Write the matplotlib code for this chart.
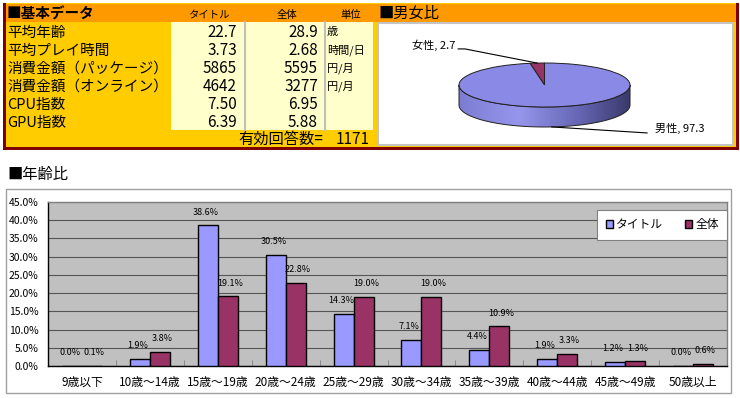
import numpy as np
import matplotlib
matplotlib.use('Agg')
import matplotlib.pyplot as plt
from matplotlib.patches import Rectangle, Polygon

plt.rcParams['font.family'] = ['Noto Sans CJK JP', 'DejaVu Sans']

# ---------------- data ----------------
table_rows = ['平均年齢', '平均プレイ時間', '消費金額（パッケージ）', '消費金額（オンライン）', 'CPU指数', 'GPU指数']
title_values = [22.7, 3.73, 5865, 4642, 7.50, 6.39]
all_values = [28.9, 2.68, 5595, 3277, 6.95, 5.88]
value_formats = ['{:.1f}', '{:.2f}', '{:.0f}', '{:.0f}', '{:.2f}', '{:.2f}']
units = ['歳', '時間/日', '円/月', '円/月', '', '']
column_headers = ['タイトル', '全体', '単位']
valid_answers = 1171

gender_labels = ['女性', '男性']
gender_values = [2.7, 97.3]

age_categories = ['9歳以下', '10歳～14歳', '15歳～19歳', '20歳～24歳', '25歳～29歳',
                  '30歳～34歳', '35歳～39歳', '40歳～44歳', '45歳～49歳', '50歳以上']
title_pct = [0.0, 1.9, 38.6, 30.5, 14.3, 7.1, 4.4, 1.9, 1.2, 0.0]
all_pct = [0.1, 3.8, 19.1, 22.8, 19.0, 19.0, 10.9, 3.3, 1.3, 0.6]
series_names = ['タイトル', '全体']

# ---------------- figure ----------------
W, H = 740, 398
fig = plt.figure(figsize=(7.4, 3.98), dpi=100)
fig.patch.set_facecolor('white')
bg = fig.add_axes([0, 0, 1, 1])
bg.set_xlim(0, W)
bg.set_ylim(H, 0)
bg.axis('off')


def rect(x0, y0, x1, y1, **kw):
    bg.add_patch(Rectangle((x0, y0), x1 - x0, y1 - y0, **kw))


# top panels
rect(3, 3, 739, 149, fc='#FFCC00', ec='none')
rect(5, 4, 736, 22, fc='#FF9900', ec='none')
rect(171, 22, 373, 130, fc='#FFFFCC', ec='none')
bg.plot([245, 245], [22, 130], color='#BFBFBF', lw=1.5)
bg.plot([325, 325], [22, 130], color='#BFBFBF', lw=1.5)
rect(378, 23, 733, 145, fc='white', ec='#C4C4C4', lw=1.5)
rect(3, 3, 5.5, 150, fc='#800000', ec='none')
rect(3, 147, 739, 150, fc='#800000', ec='none')
rect(736, 3, 739, 150, fc='#800000', ec='none')

bg.text(7, 13.5, '■基本データ', fontsize=10.5, fontweight='bold', va='center', ha='left')
for hx, htxt in zip([209, 287, 351], column_headers):
    bg.text(hx, 15, htxt, fontsize=7.5, va='center', ha='center')
bg.text(378, 13.5, '■男女比', fontsize=11, va='center', ha='left')

for i, lab in enumerate(table_rows):
    y = 32.5 + 18 * i
    bg.text(7, y, lab, fontsize=10.5, va='center', ha='left')
    bg.text(237, y, value_formats[i].format(title_values[i]), fontsize=11, va='center', ha='right')
    bg.text(318, y, value_formats[i].format(all_values[i]), fontsize=11, va='center', ha='right')
    if units[i]:
        bg.text(327, y, units[i], fontsize=8, va='center', ha='left')

bg.text(323, 139.5, '有効回答数=', fontsize=11, va='center', ha='right')
bg.text(370, 139.5, str(valid_answers), fontsize=11, va='center', ha='right')

# bottom chart frame and title
bg.text(7, 175, '■年齢比', fontsize=11, va='center', ha='left')
rect(6, 189, 731, 393, fc='white', ec='#A0A0A0', lw=1)

# ---------------- pie (3D look) ----------------
cx, cy, sx, sy = 544.5, 85.0, 85.5, 22.0
d = 20.0 / sy
px0, px1, py0, py1 = 379, 732, 24, 144
pa = fig.add_axes([px0 / W, 1 - py1 / H, (px1 - px0) / W, (py1 - py0) / H])
t = np.linspace(np.pi, 2 * np.pi, 200)
side_pts = np.concatenate([np.c_[np.cos(t), np.sin(t)],
                           np.c_[np.cos(t[::-1]), np.sin(t[::-1]) - d]])
side = Polygon(side_pts, closed=True, fc='none', ec='#202020', lw=0.7, zorder=2)
pa.add_patch(side)
stops_x = [0.0, 0.35, 0.7, 1.0]
stops_c = np.array([[0x7C, 0x7C, 0xD2], [0x96, 0x96, 0xEC], [0x66, 0x66, 0xB4], [0x3A, 0x3A, 0x6C]]) / 255
gx = np.linspace(0, 1, 300)
grad = np.stack([np.interp(gx, stops_x, stops_c[:, k]) for k in range(3)], axis=-1)[None, :, :]
im = pa.imshow(grad, extent=(-1, 1, -1 - d, 0), aspect='auto', origin='lower', zorder=1)
im.set_clip_path(side)
pa.pie(gender_values, colors=['#993366', '#8A8AE6'], startangle=90, counterclock=True,
       wedgeprops=dict(edgecolor='#202020', linewidth=0.7, zorder=3))
pa.set_aspect('auto')
pa.set_xlim((px0 - cx) / sx, (px1 - cx) / sx)
pa.set_ylim((cy - py1) / sy, (cy - py0) / sy)
pa.axis('off')

a0 = np.deg2rad(90 + gender_values[0] * 3.6 / 2)
a1 = np.deg2rad(90 + gender_values[0] * 3.6 + gender_values[1] * 3.6 / 2)
fa = (np.cos(a0), np.sin(a0))
ma = (np.cos(a1), np.sin(a1) - d)
pa.plot([-1.01, -0.93, fa[0]], [1.64, 1.64, fa[1]], color='black', lw=0.8, zorder=4)
pa.text(-1.04, 1.80, f'{gender_labels[0]}, {gender_values[0]}', fontsize=8, ha='right', va='center')
pa.plot([ma[0], 1.20], [ma[1], -2.18], color='black', lw=0.8, zorder=4)
pa.text(1.29, -1.97, f'{gender_labels[1]}, {gender_values[1]}', fontsize=8, ha='left', va='center')

# ---------------- bar chart ----------------
ax = fig.add_axes([48 / W, 1 - 366 / H, 679 / W, 164 / H])
x = np.arange(len(age_categories))
w = 0.295
b1 = ax.bar(x - w / 2, title_pct, w, color='#9999FF', edgecolor='black', lw=1, label=series_names[0], zorder=3)
b2 = ax.bar(x + w / 2, all_pct, w, color='#993366', edgecolor='black', lw=1, label=series_names[1], zorder=3)
for xs, vals, dx in ((x - w / 2, title_pct, -1.6), (x + w / 2, all_pct, 1.6)):
    for xi, v in zip(xs, vals):
        ax.annotate(f'{v:.1f}%', (xi, v), xytext=(dx, 9.5), textcoords='offset points',
                    ha='center', va='center', fontsize=6.5, zorder=5)
ax.set_xlim(-0.5, len(age_categories) - 0.5)
ax.set_ylim(0, 45)
yt = np.arange(0, 46, 5)
ax.set_yticks(yt, [f'{v:.1f}%' for v in yt])
ax.set_facecolor('#C0C0C0')
ax.grid(axis='y', color='#555555', lw=0.8, zorder=0)
ax.set_axisbelow(True)
ax.set_xticks(x, age_categories)
ax.tick_params(axis='x', which='major', length=0, pad=7, labelsize=8.5)
ax.set_xticks(np.arange(0.5, len(age_categories) - 0.5, 1), minor=True)
ax.tick_params(axis='x', which='minor', direction='in', length=4, color='#808080')
ax.tick_params(axis='y', length=0, pad=7, labelsize=7.5)
for s in ('left', 'bottom'):
    ax.spines[s].set_color('black')
    ax.spines[s].set_linewidth(1)
for s in ('top', 'right'):
    ax.spines[s].set_color('#808080')
    ax.spines[s].set_linewidth(1)

leg = ax.legend(handles=[b1, b2], ncol=2, loc='upper right', bbox_to_anchor=(1.0, (366 - 210) / 164),
                fontsize=8.5, frameon=True, fancybox=False, edgecolor='#808080', framealpha=1,
                handlelength=0.6, handleheight=0.6, handletextpad=0.3, columnspacing=1.8,
                borderpad=0.7, borderaxespad=0)
leg.get_frame().set_linewidth(0.8)

fig.savefig('out.png', dpi=100, facecolor='white')
